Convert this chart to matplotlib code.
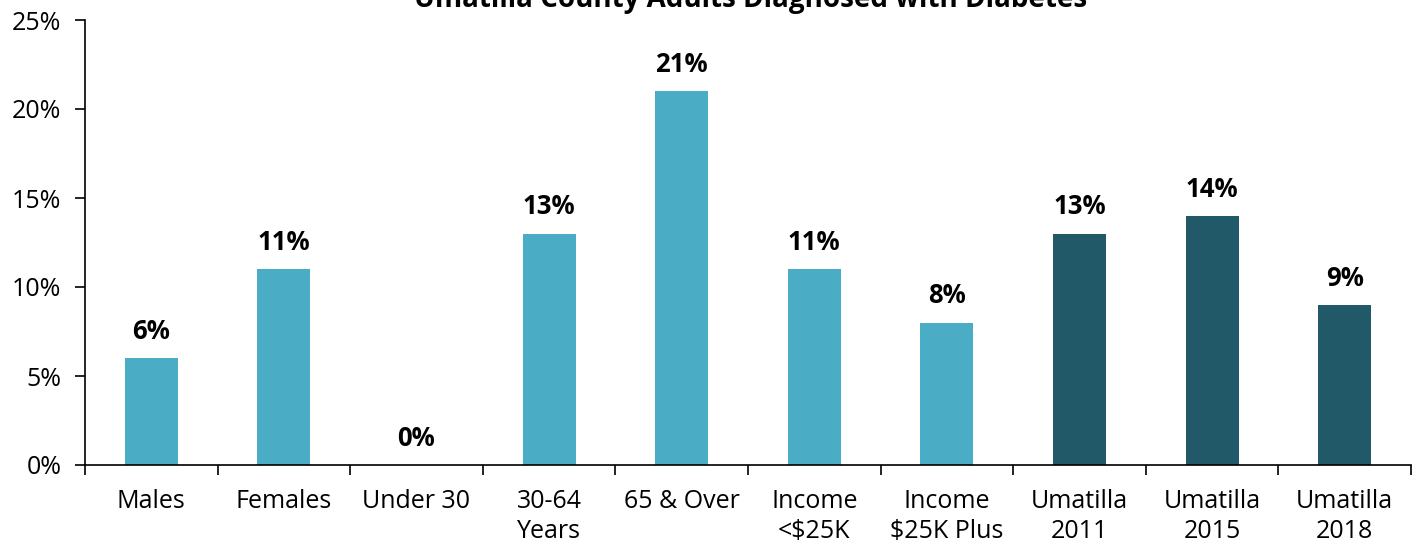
import matplotlib.pyplot as plt
import numpy as np
from matplotlib.ticker import FixedLocator, PercentFormatter

plt.rcParams['font.family'] = ['Open Sans', 'DejaVu Sans']

categories = ['Males', 'Females', 'Under 30', '30-64\nYears', '65 & Over',
              'Income\n<$25K', 'Income\n$25K Plus', 'Umatilla\n2011',
              'Umatilla\n2015', 'Umatilla\n2018']
values = [6, 11, 0, 13, 21, 11, 8, 13, 14, 9]
light = '#4BACC6'
dark = '#215968'
colors = [light] * 7 + [dark] * 3

fig = plt.figure(figsize=(14.19, 5.44), dpi=100)
ax = fig.add_axes([85 / 1419, 79 / 544, 1326 / 1419, 445 / 544])

x = np.arange(len(values))
bars = ax.bar(x, values, width=0.4, color=colors)

for xi, v in zip(x, values):
    ax.annotate(f'{v}%', (xi, v), xytext=(0, 9.5), textcoords='offset points',
                ha='center', va='bottom', fontsize=18.5, fontweight='bold')

ax.set_xlim(-0.5, len(values) - 0.5)
ax.set_ylim(0, 25)
ax.set_yticks([0, 5, 10, 15, 20, 25])
ax.yaxis.set_major_formatter(PercentFormatter(decimals=0))
ax.tick_params(axis='y', direction='out', length=7, width=1.2, pad=10, labelsize=18)

ax.xaxis.set_major_locator(FixedLocator(np.arange(-0.5, len(values), 1)))
ax.xaxis.set_minor_locator(FixedLocator(x))
ax.set_xticklabels([], minor=False)
ax.set_xticklabels(categories, minor=True)
ax.tick_params(axis='x', which='major', direction='out', length=7, width=1.2)
ax.tick_params(axis='x', which='minor', length=0, pad=17, labelsize=18)
for lab in ax.get_xticklabels(minor=True):
    lab.set_linespacing(1.3)
    lab.set_va('top')

for s in ['top', 'right']:
    ax.spines[s].set_visible(False)
for s in ['left', 'bottom']:
    ax.spines[s].set_linewidth(1.2)

fig.text(751 / 1419, 1.0, 'Umatilla County Adults Diagnosed with Diabetes',
         ha='center', va='center', fontsize=20, fontweight='bold')

fig.savefig('out.png', dpi=100)
